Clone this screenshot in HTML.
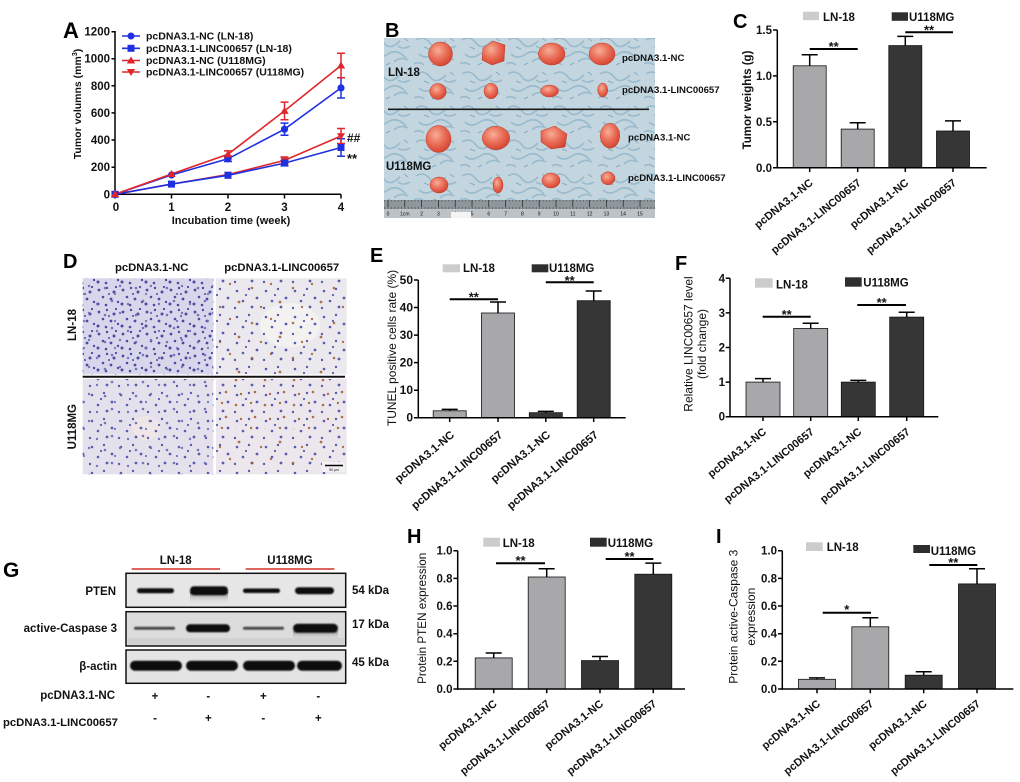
<!DOCTYPE html>
<html><head><meta charset="utf-8"><style>
html,body{margin:0;padding:0;background:#fff;}
svg{display:block;}
text{font-family:"Liberation Sans",Arial,sans-serif;fill:#111;}
.b{font-weight:bold;}
.lt{font-weight:bold;font-size:20px;fill:#000;}
.tk{font-weight:bold;font-size:11.5px;}
.xl{font-weight:bold;font-size:11px;}
.xle{font-weight:bold;font-size:11.3px;}
.ti{font-size:12px;}
.lg{font-weight:bold;font-size:11.5px;}
.st{font-weight:bold;font-size:13px;}
</style></head><body>
<svg width="1020" height="782" viewBox="0 0 1020 782" xmlns="http://www.w3.org/2000/svg">
<defs>
<radialGradient id="tum" cx="40%" cy="35%" r="70%">
<stop offset="0" stop-color="#f7ae98"/><stop offset="0.5" stop-color="#ea6f58"/><stop offset="1" stop-color="#d2402f"/>
</radialGradient>
<pattern id="paper" width="46" height="34" patternUnits="userSpaceOnUse">
<path d="M2 6 q8 -5 14 3 t16 -2 M5 20 q6 6 15 0 t18 4 M26 28 q6 -6 14 -2 M0 30 q5 -3 10 1 M30 12 q5 4 12 0" stroke="#7ea6c0" stroke-width="1.6" fill="none" opacity="0.6"/>
<path d="M10 13 l5 2 M36 4 l4 3 M18 31 l4 -2" stroke="#5f8fb0" stroke-width="1" opacity="0.6"/>
</pattern>
<pattern id="mm" width="3.37" height="9" patternUnits="userSpaceOnUse"><line x1="0.5" y1="0" x2="0.5" y2="3.5" stroke="#333" stroke-width="0.5"/></pattern>
<pattern id="p1" width="24" height="22" patternUnits="userSpaceOnUse">
<g fill="#4b4ba4"><circle cx="3" cy="4" r="1.4"/><circle cx="11" cy="2" r="1.2"/><circle cx="18" cy="6" r="1.5"/><circle cx="7" cy="11" r="1.3"/><circle cx="15" cy="13" r="1.4"/><circle cx="22" cy="16" r="1.2"/><circle cx="2" cy="18" r="1.5"/><circle cx="10" cy="19" r="1.3"/><circle cx="20" cy="1" r="1.1"/><circle cx="13" cy="8" r="1"/></g>
</pattern>
<pattern id="p2" width="29" height="26" patternUnits="userSpaceOnUse">
<g fill="#5a5ab0"><circle cx="5" cy="5" r="1.3"/><circle cx="17" cy="3" r="1.2"/><circle cx="25" cy="12" r="1.4"/><circle cx="11" cy="15" r="1.3"/><circle cx="3" cy="22" r="1.2"/><circle cx="20" cy="21" r="1.4"/><circle cx="14" cy="9" r="1.1"/></g>
</pattern>
<pattern id="p3" width="31" height="27" patternUnits="userSpaceOnUse">
<g fill="#7076bb"><circle cx="4" cy="7" r="1.2"/><circle cx="19" cy="4" r="1.3"/><circle cx="27" cy="16" r="1.2"/><circle cx="12" cy="18" r="1.3"/><circle cx="22" cy="24" r="1.1"/></g>
</pattern>
<pattern id="br" width="41" height="35" patternUnits="userSpaceOnUse">
<g fill="#9a5530"><circle cx="6" cy="8" r="1.3"/><circle cx="25" cy="4" r="1.2"/><circle cx="34" cy="22" r="1.4"/><circle cx="15" cy="27" r="1.2"/></g>
</pattern>
<pattern id="br2" width="29" height="25" patternUnits="userSpaceOnUse">
<g fill="#a0592c"><circle cx="4" cy="5" r="1.3"/><circle cx="19" cy="3" r="1.2"/><circle cx="23" cy="17" r="1.3"/><circle cx="9" cy="19" r="1.2"/></g>
</pattern>
<filter id="bl" x="-20%" y="-50%" width="140%" height="200%"><feGaussianBlur stdDeviation="0.9"/></filter>
<linearGradient id="smear" x1="0" y1="0" x2="0" y2="1"><stop offset="0" stop-color="#555"/><stop offset="1" stop-color="#e0e0e0" stop-opacity="0"/></linearGradient>
</defs>

<!-- ============ PANEL A ============ -->
<text class="lt" x="63" y="38" style="font-size:22px">A</text>
<g stroke="#000" stroke-width="1.5" fill="none">
<line x1="115" y1="31" x2="115" y2="195"/>
<line x1="114.3" y1="194.3" x2="341" y2="194.3"/>
<path d="M111.5 194.3H115M111.5 167.2H115M111.5 140H115M111.5 112.9H115M111.5 85.8H115M111.5 58.7H115M111.5 31.7H115"/>
<path d="M115 194.3V198.5M171.5 194.3V198.5M228 194.3V198.5M284.5 194.3V198.5M341 194.3V198.5"/>
</g>
<g class="tk" text-anchor="end">
<text x="110" y="198.3">0</text><text x="110" y="171.2">200</text><text x="110" y="144">400</text><text x="110" y="116.9">600</text><text x="110" y="89.8">800</text><text x="110" y="62.7">1000</text><text x="110" y="35.7">1200</text>
</g>
<g class="tk" text-anchor="middle">
<text x="116" y="211">0</text><text x="171.5" y="211">1</text><text x="228" y="211">2</text><text x="284.5" y="211">3</text><text x="341" y="211">4</text>
</g>
<text class="b" x="231" y="224" text-anchor="middle" style="font-size:11px">Incubation time (week)</text>
<text class="b" transform="translate(81,104) rotate(-90)" text-anchor="middle" style="font-size:10.5px">Tumor volumns (mm<tspan dy="-4" style="font-size:7px">3</tspan><tspan dy="4">)</tspan></text>
<g fill="none" stroke-width="1.6">
<polyline stroke="#e0262a" points="115,194.3 171.5,184.1 228,174.6 284.5,160.4 341,136"/>
<polyline stroke="#1f30e0" points="115,194.3 171.5,184.1 228,175.3 284.5,163.1 341,147.5"/>
<polyline stroke="#1f30e0" points="115,194.3 171.5,175 228,158.8 284.5,129.2 341,87.9"/>
<polyline stroke="#e0262a" points="115,194.3 171.5,174 228,154.3 284.5,110.9 341,65.5"/>
</g>
<g stroke-width="1.5" fill="none">
<path stroke="#1f30e0" d="M284.5 123.1V135.3M280.5 123.1H288.5M280.5 135.3H288.5M341 77.7V98M337 77.7H345M337 98H345M228 156.1V161.5M224 156.1H232M224 161.5H232"/>
<path stroke="#1f30e0" d="M341 138.7V156.3M337 138.7H345M337 156.3H345M284.5 160.4V165.8M280.5 160.4H288.5M280.5 165.8H288.5"/>
<path stroke="#e0262a" d="M284.5 102.1V119.7M280.5 102.1H288.5M280.5 119.7H288.5M341 53.3V77.7M337 53.3H345M337 77.7H345M228 150.9V157.7M224 150.9H232M224 157.7H232"/>
<path stroke="#e0262a" d="M341 128.5V143.5M337 128.5H345M337 143.5H345M284.5 157V163.8M280.5 157H288.5M280.5 163.8H288.5"/>
</g>
<g fill="#e0262a">
<path d="M111 191.5h8l-4 6.5z M167.5 181.3h8l-4 6.5z M224 171.8h8l-4 6.5z M280.5 157.6h8l-4 6.5z M337 133.2h8l-4 6.5z"/>
</g>
<g fill="#1f30e0">
<rect x="111.5" y="190.8" width="7" height="7"/><rect x="168" y="180.6" width="7" height="7"/><rect x="224.5" y="171.8" width="7" height="7"/><rect x="281" y="159.6" width="7" height="7"/><rect x="337.5" y="144" width="7" height="7"/>
<circle cx="115" cy="194.3" r="3.6"/><circle cx="171.5" cy="175" r="3.6"/><circle cx="228" cy="158.8" r="3.6"/><circle cx="284.5" cy="129.2" r="3.6"/><circle cx="341" cy="87.9" r="3.6"/>
</g>
<g fill="#e0262a">
<path d="M115 190.3l4.2 7h-8.4z M171.5 170l4.2 7h-8.4z M228 150.3l4.2 7h-8.4z M284.5 106.9l4.2 7h-8.4z M341 61.5l4.2 7h-8.4z"/>
</g>
<g stroke-width="1.6">
<line x1="122" y1="36" x2="140" y2="36" stroke="#1f30e0"/><circle cx="131" cy="36" r="3.5" fill="#1f30e0"/>
<line x1="122" y1="48.3" x2="140" y2="48.3" stroke="#1f30e0"/><rect x="127.5" y="44.8" width="7" height="7" fill="#1f30e0"/>
<line x1="122" y1="60.5" x2="140" y2="60.5" stroke="#e0262a"/><path d="M131 56.5l4.2 7h-8.4z" fill="#e0262a"/>
<line x1="122" y1="72" x2="140" y2="72" stroke="#e0262a"/><path d="M126.8 69h8.4l-4.2 7z" fill="#e0262a"/>
</g>
<g class="b" style="font-size:10.5px">
<text x="146" y="39.5">pcDNA3.1-NC (LN-18)</text>
<text x="146" y="51.8">pcDNA3.1-LINC00657 (LN-18)</text>
<text x="146" y="64">pcDNA3.1-NC (U118MG)</text>
<text x="146" y="75.5">pcDNA3.1-LINC00657 (U118MG)</text>
</g>
<text class="b" x="347" y="142" style="font-size:12px">##</text>
<text class="st" x="347" y="163">**</text>

<!-- ============ PANEL B ============ -->
<text class="lt" x="385" y="37">B</text>
<rect x="384" y="38" width="271" height="180" fill="#c3d6e0"/>
<rect x="384" y="38" width="271" height="162" fill="url(#paper)"/>
<line x1="388" y1="109.3" x2="649" y2="109.3" stroke="#1a1a1a" stroke-width="1.6"/>
<g fill="url(#tum)" stroke="#c0392b" stroke-width="0.5">
<ellipse cx="440.5" cy="54" rx="12" ry="12"/><path d="M483 48 l10 -7 l12 4 l-1 16 l-12 4 l-10 -5z"/><ellipse cx="551.7" cy="54" rx="13.3" ry="11"/><ellipse cx="602" cy="54" rx="13" ry="11"/>
<ellipse cx="438" cy="91.5" rx="8.3" ry="8"/><ellipse cx="491" cy="91" rx="7" ry="7.8"/><ellipse cx="549.5" cy="91" rx="9" ry="6"/><ellipse cx="602.7" cy="90" rx="5" ry="7"/>
<ellipse cx="438.5" cy="139" rx="12.5" ry="13.5"/><ellipse cx="496" cy="138" rx="13.7" ry="11.7"/><path d="M541 131 l14 -5 l12 8 l-2 13 l-14 2 l-10 -7z"/><ellipse cx="610" cy="135.7" rx="9.7" ry="12.5"/>
<ellipse cx="439" cy="185" rx="9" ry="8"/><ellipse cx="498" cy="185" rx="5" ry="8"/><ellipse cx="551" cy="180.5" rx="9" ry="7.5"/><ellipse cx="608" cy="178.3" rx="7" ry="6.5"/>
</g>
<rect x="384" y="200" width="271" height="9" fill="#8d979c"/>
<rect x="384" y="200" width="271" height="9" fill="url(#mm)"/>
<rect x="384" y="209" width="271" height="9" fill="#bcc2c5"/>
<g stroke="#222" stroke-width="0.7"><path d="M388 200v7M404.8 200v7M421.6 200v7M438.4 200v7M455.2 200v7M472 200v7M488.8 200v7M505.6 200v7M522.4 200v7M539.2 200v7M556 200v7M572.8 200v7M589.6 200v7M606.4 200v7M623.2 200v7M640 200v7"/></g>
<g style="font-size:5px" text-anchor="middle">
<text x="388" y="215.5">0</text><text x="404.8" y="215.5">1cm</text><text x="421.6" y="215.5">2</text><text x="438.4" y="215.5">3</text><text x="455.2" y="215.5">4</text><text x="472" y="215.5">5</text><text x="488.8" y="215.5">6</text><text x="505.6" y="215.5">7</text><text x="522.4" y="215.5">8</text><text x="539.2" y="215.5">9</text><text x="556" y="215.5">10</text><text x="572.8" y="215.5">11</text><text x="589.6" y="215.5">12</text><text x="606.4" y="215.5">13</text><text x="623.2" y="215.5">14</text><text x="640" y="215.5">15</text>
</g>
<rect x="451" y="212" width="20" height="6" fill="#f4f4f4"/>
<g class="b" style="font-size:11.5px"><text x="388" y="76">LN-18</text><text x="386" y="170">U118MG</text></g>
<g class="b" style="font-size:9.6px">
<text x="622" y="61">pcDNA3.1-NC</text><text x="622" y="93">pcDNA3.1-LINC00657</text>
<text x="628" y="140.5">pcDNA3.1-NC</text><text x="628" y="181">pcDNA3.1-LINC00657</text>
</g>

<!-- ============ PANEL C ============ -->
<text class="lt" x="733" y="28">C</text>
<rect x="803" y="11.7" width="16" height="8.5" fill="#cccccc"/><text class="lg" x="823" y="21">LN-18</text>
<rect x="891.7" y="12.3" width="16.3" height="8.5" fill="#2e2e2e"/><text class="lg" x="909" y="21">U118MG</text>
<g stroke="#111" stroke-width="0.8">
<rect x="793.2" y="65.8" width="33" height="101.9" fill="#a8a8aa"/>
<rect x="841.2" y="129.1" width="33" height="38.6" fill="#a8a8aa"/>
<rect x="888.8" y="45.6" width="33" height="122.1" fill="#363636"/>
<rect x="936.5" y="131" width="33" height="36.7" fill="#363636"/>
</g>
<g stroke="#000" stroke-width="1.5" fill="none">
<path d="M809.7 65.8V54.8M801.7 54.8H817.7M857.7 129.1V122.7M849.7 122.7H865.7M905.3 45.6V36.4M897.3 36.4H913.3M953 131V120.9M945 120.9H961"/>
<line x1="777.3" y1="30" x2="777.3" y2="168.4"/>
<line x1="776.6" y1="167.7" x2="986.7" y2="167.7"/>
<path d="M773 30H777.3M773 75.9H777.3M773 121.8H777.3M773 167.7H777.3"/>
<path d="M809.7 167.7V172M857.7 167.7V172M905.3 167.7V172M953 167.7V172"/>
</g>
<g stroke="#000" stroke-width="2"><line x1="809.7" y1="49" x2="857.7" y2="49"/><line x1="905.3" y1="32.3" x2="953" y2="32.3"/></g>
<g class="st" text-anchor="middle"><text x="833.7" y="51">**</text><text x="929" y="34.5">**</text></g>
<g class="tk" text-anchor="end"><text x="772" y="34">1.5</text><text x="772" y="80">1.0</text><text x="772" y="126">0.5</text><text x="772" y="172">0.0</text></g>
<text class="b" transform="translate(751,100) rotate(-90)" text-anchor="middle" style="font-size:11.5px">Tumor weights (g)</text>
<g class="xl" text-anchor="end">
<text transform="translate(813.7,184) rotate(-39)">pcDNA3.1-NC</text>
<text transform="translate(861.7,184) rotate(-39)">pcDNA3.1-LINC00657</text>
<text transform="translate(909.3,184) rotate(-39)">pcDNA3.1-NC</text>
<text transform="translate(957,184) rotate(-39)">pcDNA3.1-LINC00657</text>
</g>

<!-- ============ PANEL D ============ -->
<text class="lt" x="63" y="268">D</text>
<g class="b" style="font-size:11.3px" text-anchor="middle"><text x="151.7" y="271">pcDNA3.1-NC</text><text x="281.7" y="271">pcDNA3.1-LINC00657</text></g>
<text class="b" transform="translate(76,325) rotate(-90)" text-anchor="middle" style="font-size:11.5px">LN-18</text>
<text class="b" transform="translate(76,426.7) rotate(-90)" text-anchor="middle" style="font-size:11.5px">U118MG</text>
<rect x="82.7" y="278.3" width="130.6" height="96" fill="#d8d6ea"/>
<rect x="82.7" y="278.3" width="130.6" height="96" fill="url(#p1)"/>
<rect x="82.7" y="278.3" width="130.6" height="96" fill="url(#p3)"/>
<rect x="216" y="278.3" width="130.7" height="96" fill="#ece9ee"/>
<ellipse cx="290" cy="325" rx="30" ry="22" fill="#f4f1f1"/>
<rect x="216" y="278.3" width="130.7" height="96" fill="url(#p2)"/>
<rect x="216" y="278.3" width="130.7" height="96" fill="url(#br)" opacity="0.8"/>
<rect x="82.7" y="379" width="130.6" height="95.3" fill="#e4e1ec"/>
<ellipse cx="146" cy="428" rx="14" ry="12" fill="#efe6e8"/>
<rect x="82.7" y="379" width="130.6" height="95.3" fill="url(#p2)"/>
<rect x="82.7" y="379" width="130.6" height="95.3" fill="url(#p3)"/>
<rect x="216" y="379" width="130.7" height="95.3" fill="#ebe7ec"/>
<rect x="216" y="379" width="130.7" height="95.3" fill="url(#p2)"/>
<rect x="216" y="379" width="130.7" height="50" fill="url(#br2)" opacity="0.85"/>
<rect x="216" y="429" width="130.7" height="45.3" fill="url(#br)" opacity="0.8"/>
<line x1="82.7" y1="376.7" x2="345" y2="376.7" stroke="#111" stroke-width="2"/>
<rect x="322" y="462" width="23" height="10" fill="#f2f0f2"/>
<line x1="325" y1="465.5" x2="343" y2="465.5" stroke="#000" stroke-width="1.6"/>
<text x="334" y="471" text-anchor="middle" style="font-size:3.5px">50 μm</text>

<!-- ============ PANEL E ============ -->
<text class="lt" x="370" y="262">E</text>
<rect x="442.7" y="264.3" width="17.3" height="8" fill="#cccccc"/><text class="lg" x="463" y="272">LN-18</text>
<rect x="531.7" y="264.3" width="16.6" height="8" fill="#2e2e2e"/><text class="lg" x="549" y="272">U118MG</text>
<g stroke="#111" stroke-width="0.8">
<rect x="433.2" y="410.8" width="33" height="6.9" fill="#a8a8aa"/>
<rect x="481.5" y="313" width="33" height="104.7" fill="#a8a8aa"/>
<rect x="529.3" y="412.7" width="33" height="5" fill="#363636"/>
<rect x="577.2" y="300.7" width="33" height="117" fill="#363636"/>
</g>
<g stroke="#000" stroke-width="1.5" fill="none">
<path d="M449.7 410.8V409.4M441.7 409.4H457.7M498 313V302M490 302H506M545.8 412.7V411.4M537.8 411.4H553.8M593.7 300.7V291M585.7 291H601.7"/>
<line x1="418.3" y1="280" x2="418.3" y2="418.4"/>
<line x1="417.6" y1="417.7" x2="625.7" y2="417.7"/>
<path d="M414 280H418.3M414 307.5H418.3M414 335.1H418.3M414 362.6H418.3M414 390.2H418.3M414 417.7H418.3"/>
<path d="M449.7 417.7V422M498 417.7V422M545.8 417.7V422M593.7 417.7V422"/>
</g>
<g stroke="#000" stroke-width="2"><line x1="449.7" y1="299.3" x2="498" y2="299.3"/><line x1="545.8" y1="282.3" x2="593.7" y2="282.3"/></g>
<g class="st" text-anchor="middle"><text x="473.8" y="301.5">**</text><text x="569.7" y="285">**</text></g>
<g class="tk" text-anchor="end" style="font-size:12px"><text x="413" y="284">50</text><text x="413" y="311.5">40</text><text x="413" y="339.1">30</text><text x="413" y="366.6">20</text><text x="413" y="394.2">10</text><text x="413" y="421.7">0</text></g>
<text class="ti" transform="translate(396,348) rotate(-90)" text-anchor="middle">TUNEL positive cells rate (%)</text>
<g class="xle" text-anchor="end">
<text transform="translate(455,436) rotate(-40)">pcDNA3.1-NC</text>
<text transform="translate(503.3,436) rotate(-40)">pcDNA3.1-LINC00657</text>
<text transform="translate(551,436) rotate(-40)">pcDNA3.1-NC</text>
<text transform="translate(599,436) rotate(-40)">pcDNA3.1-LINC00657</text>
</g>

<!-- ============ PANEL F ============ -->
<text class="lt" x="675" y="270">F</text>
<rect x="755" y="278.3" width="17.7" height="9.4" fill="#cccccc"/><text class="lg" x="776" y="288.5">LN-18</text>
<rect x="845" y="277.3" width="16.7" height="9.4" fill="#2e2e2e"/><text class="lg" x="863.3" y="286.5">U118MG</text>
<g stroke="#111" stroke-width="0.8">
<rect x="746" y="382.1" width="34" height="34.6" fill="#a8a8aa"/>
<rect x="793.7" y="328.5" width="34" height="88.2" fill="#a8a8aa"/>
<rect x="841.3" y="382.1" width="34" height="34.6" fill="#363636"/>
<rect x="889.7" y="317.1" width="34" height="99.6" fill="#363636"/>
</g>
<g stroke="#000" stroke-width="1.5" fill="none">
<path d="M763 382.1V378.6M755 378.6H771M810.7 328.5V323.3M802.7 323.3H818.7M858.3 382.1V380.4M850.3 380.4H866.3M906.7 317.1V312.2M898.7 312.2H914.7"/>
<line x1="730" y1="278.3" x2="730" y2="417.4"/>
<line x1="729.3" y1="416.7" x2="938.3" y2="416.7"/>
<path d="M725.7 278.3H730M725.7 312.9H730M725.7 347.5H730M725.7 382.1H730M725.7 416.7H730"/>
<path d="M763 416.7V421M810.7 416.7V421M858.3 416.7V421M906.7 416.7V421"/>
</g>
<g stroke="#000" stroke-width="2"><line x1="762.7" y1="316.7" x2="810.7" y2="316.7"/><line x1="857.3" y1="305" x2="906" y2="305"/></g>
<g class="st" text-anchor="middle"><text x="786.7" y="319">**</text><text x="881.7" y="307">**</text></g>
<g class="tk" text-anchor="end"><text x="725" y="282.3">4</text><text x="725" y="316.9">3</text><text x="725" y="351.5">2</text><text x="725" y="386.1">1</text><text x="725" y="420.7">0</text></g>
<text class="ti" transform="translate(692.5,344) rotate(-90)" text-anchor="middle">Relative LINC00657 level</text>
<text class="ti" transform="translate(706,344) rotate(-90)" text-anchor="middle">(fold change)</text>
<g class="xl" text-anchor="end">
<text transform="translate(767,433) rotate(-39)">pcDNA3.1-NC</text>
<text transform="translate(814.7,433) rotate(-39)">pcDNA3.1-LINC00657</text>
<text transform="translate(862.3,433) rotate(-39)">pcDNA3.1-NC</text>
<text transform="translate(910.7,433) rotate(-39)">pcDNA3.1-LINC00657</text>
</g>

<!-- ============ PANEL G ============ -->
<text class="lt" x="3" y="577" style="font-size:21px">G</text>
<g class="b" style="font-size:11.5px" text-anchor="middle"><text x="175.7" y="564">LN-18</text><text x="290" y="564">U118MG</text></g>
<g stroke="#d0302a" stroke-width="1.5"><line x1="131.7" y1="569" x2="220" y2="569"/><line x1="245.7" y1="569" x2="334.3" y2="569"/></g>
<rect x="126" y="573.3" width="219.7" height="34" fill="#e6e6e6" stroke="#111" stroke-width="1.5"/>
<rect x="126" y="611.7" width="219.7" height="34.3" fill="#dcdcdc" stroke="#111" stroke-width="1.5"/>
<rect x="126" y="650" width="219.7" height="33.3" fill="#e4e4e4" stroke="#111" stroke-width="1.5"/>
<rect x="190" y="592" width="38" height="12" fill="url(#smear)" opacity="0.7"/>
<rect x="293" y="631" width="45" height="10" fill="url(#smear)" opacity="0.5"/>
<rect x="128" y="638" width="216" height="7" fill="#c9c9c9" opacity="0.6"/>
<g fill="#111" filter="url(#bl)">
<rect x="137" y="588.2" width="37" height="5" rx="2.5"/>
<rect x="190" y="586.2" width="38" height="9" rx="4"/>
<rect x="243" y="588.5" width="37" height="4.5" rx="2.2"/>
<rect x="295" y="587.2" width="39" height="7" rx="3.5"/>
<rect x="134" y="626.8" width="41" height="3" rx="1.5" fill="#4a4a4a"/>
<rect x="186" y="624.3" width="44" height="8" rx="4"/>
<rect x="243" y="626.8" width="41" height="3" rx="1.5" fill="#4a4a4a"/>
<rect x="293" y="623.8" width="45" height="9" rx="4.5"/>
<rect x="130" y="660.7" width="52" height="10" rx="5"/>
<rect x="186" y="660.7" width="52" height="10" rx="5"/>
<rect x="243" y="660.7" width="52" height="10" rx="5"/>
<rect x="297" y="660.7" width="45" height="10" rx="5"/>
</g>
<g class="b" style="font-size:11.5px" text-anchor="end">
<text x="116" y="595">PTEN</text><text x="117" y="632">active-Caspase 3</text><text x="117" y="670">β-actin</text>
<text x="115" y="699">pcDNA3.1-NC</text>
</g>
<text class="b" x="3" y="726" style="font-size:11.3px">pcDNA3.1-LINC00657</text>
<g class="b" style="font-size:11.5px"><text x="352" y="594">54 kDa</text><text x="352" y="628">17 kDa</text><text x="352" y="666">45 kDa</text></g>
<g class="b" style="font-size:11.5px" text-anchor="middle">
<text x="155" y="700">+</text><text x="208.3" y="700">-</text><text x="263.3" y="700">+</text><text x="318.3" y="700">-</text>
<text x="155" y="722">-</text><text x="208.3" y="722">+</text><text x="263.3" y="722">-</text><text x="318.3" y="722">+</text>
</g>

<!-- ============ PANEL H ============ -->
<text class="lt" x="407" y="543">H</text>
<rect x="483.3" y="537.7" width="16.7" height="9" fill="#cccccc"/><text class="lg" x="502.7" y="547">LN-18</text>
<rect x="590" y="537.7" width="16.7" height="9" fill="#2e2e2e"/><text class="lg" x="607.7" y="547">U118MG</text>
<g stroke="#111" stroke-width="0.8">
<rect x="475.2" y="657.9" width="37" height="31.1" fill="#a8a8aa"/>
<rect x="528.2" y="577" width="37" height="112" fill="#a8a8aa"/>
<rect x="581.5" y="660.6" width="37" height="28.4" fill="#363636"/>
<rect x="634.8" y="574.2" width="37" height="114.8" fill="#363636"/>
</g>
<g stroke="#000" stroke-width="1.5" fill="none">
<path d="M493.7 657.9V653M485.7 653H501.7M546.7 577V568.7M538.7 568.7H554.7M600 660.6V656.5M592 656.5H608M653.3 574.2V563.1M645.3 563.1H661.3"/>
<line x1="457.7" y1="550.7" x2="457.7" y2="689.7"/>
<line x1="457" y1="689" x2="685" y2="689"/>
<path d="M453.4 550.7H457.7M453.4 578.4H457.7M453.4 606H457.7M453.4 633.7H457.7M453.4 661.3H457.7M453.4 689H457.7"/>
<path d="M493.7 689V693.3M546.7 689V693.3M600 689V693.3M653.3 689V693.3"/>
</g>
<g stroke="#000" stroke-width="2"><line x1="496" y1="563.3" x2="545" y2="563.3"/><line x1="605.7" y1="559" x2="653.3" y2="559"/></g>
<g class="st" text-anchor="middle"><text x="520.5" y="565">**</text><text x="629.5" y="561">**</text></g>
<g class="tk" text-anchor="end"><text x="452.5" y="554.7">1.0</text><text x="452.5" y="582.4">0.8</text><text x="452.5" y="610">0.6</text><text x="452.5" y="637.7">0.4</text><text x="452.5" y="665.3">0.2</text><text x="452.5" y="693">0.0</text></g>
<text class="ti" transform="translate(426,618.3) rotate(-90)" text-anchor="middle" style="font-size:11.7px">Protein PTEN expression</text>
<g class="xl" text-anchor="end">
<text transform="translate(497.7,705) rotate(-39)">pcDNA3.1-NC</text>
<text transform="translate(550.7,705) rotate(-39)">pcDNA3.1-LINC00657</text>
<text transform="translate(604,705) rotate(-39)">pcDNA3.1-NC</text>
<text transform="translate(657.3,705) rotate(-39)">pcDNA3.1-LINC00657</text>
</g>

<!-- ============ PANEL I ============ -->
<text class="lt" x="716" y="543">I</text>
<rect x="806" y="542.3" width="16.7" height="8.7" fill="#cccccc"/><text class="lg" x="826.7" y="551">LN-18</text>
<rect x="913.3" y="545" width="16.7" height="8" fill="#2e2e2e"/><text class="lg" x="930.7" y="555">U118MG</text>
<g stroke="#111" stroke-width="0.8">
<rect x="798.5" y="679.3" width="37" height="9.7" fill="#a8a8aa"/>
<rect x="851.8" y="626.8" width="37" height="62.2" fill="#a8a8aa"/>
<rect x="905.2" y="675.2" width="37" height="13.8" fill="#363636"/>
<rect x="958.5" y="583.9" width="37" height="105.1" fill="#363636"/>
</g>
<g stroke="#000" stroke-width="1.5" fill="none">
<path d="M817 679.3V677.9M809 677.9H825M870.3 626.8V617.8M862.3 617.8H878.3M923.7 675.2V671.7M915.7 671.7H931.7M977 583.9V568.7M969 568.7H985"/>
<line x1="782.3" y1="550.7" x2="782.3" y2="689.7"/>
<line x1="781.6" y1="689" x2="1013.3" y2="689"/>
<path d="M778 550.7H782.3M778 578.4H782.3M778 606H782.3M778 633.7H782.3M778 661.3H782.3M778 689H782.3"/>
<path d="M817 689V693.3M870.3 689V693.3M923.7 689V693.3M977 689V693.3"/>
</g>
<g stroke="#000" stroke-width="2"><line x1="822.7" y1="612.7" x2="871" y2="612.7"/><line x1="929.3" y1="565" x2="977.3" y2="565"/></g>
<g class="st" text-anchor="middle"><text x="846.8" y="614">*</text><text x="953.3" y="567">**</text></g>
<g class="tk" text-anchor="end"><text x="777" y="554.7">1.0</text><text x="777" y="582.4">0.8</text><text x="777" y="610">0.6</text><text x="777" y="637.7">0.4</text><text x="777" y="665.3">0.2</text><text x="777" y="693">0.0</text></g>
<text class="ti" transform="translate(737.6,616.7) rotate(-90)" text-anchor="middle">Protein active-Caspase 3</text>
<text class="ti" transform="translate(755,616.7) rotate(-90)" text-anchor="middle">expression</text>
<g class="xl" text-anchor="end">
<text transform="translate(821,705) rotate(-39)">pcDNA3.1-NC</text>
<text transform="translate(874.3,705) rotate(-39)">pcDNA3.1-LINC00657</text>
<text transform="translate(927.7,705) rotate(-39)">pcDNA3.1-NC</text>
<text transform="translate(981,705) rotate(-39)">pcDNA3.1-LINC00657</text>
</g>
</svg>
</body></html>
